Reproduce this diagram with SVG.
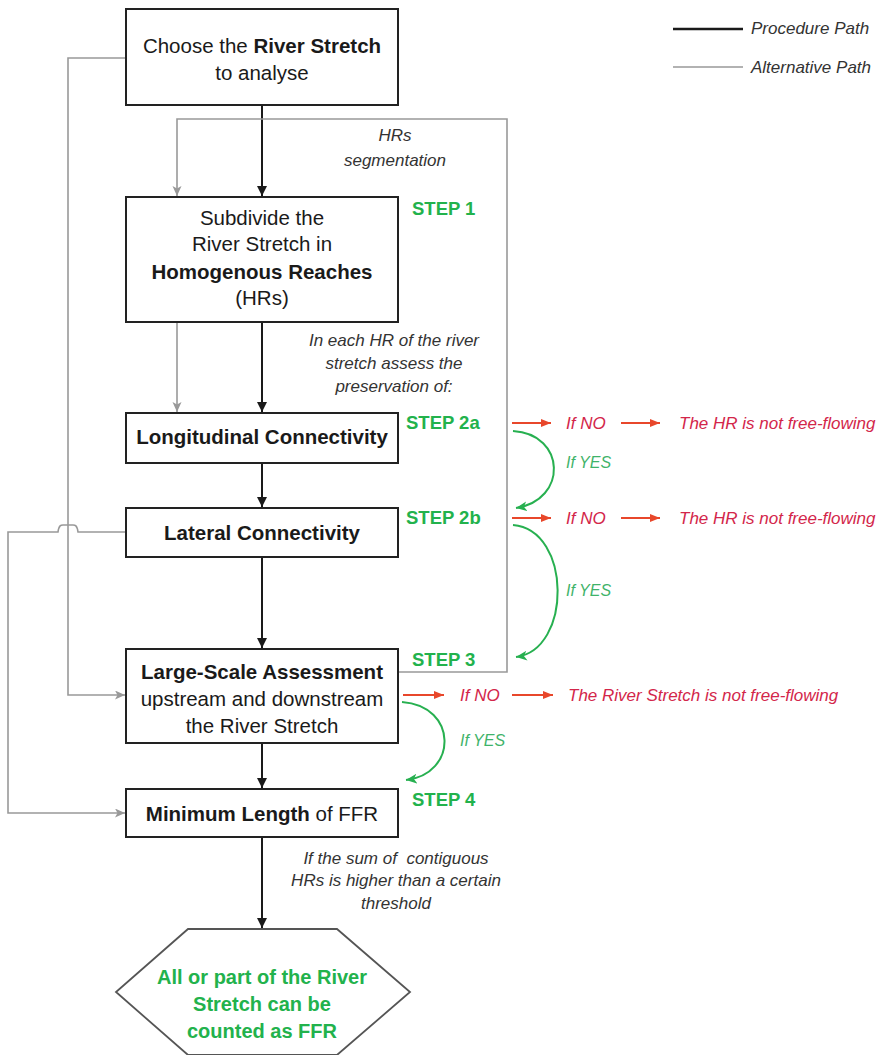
<svg xmlns="http://www.w3.org/2000/svg" width="877" height="1055" viewBox="0 0 877 1055">
<style>
.box{fill:#fff;stroke:#222;stroke-width:2}
.t{font-family:"Liberation Sans",Arial,sans-serif;font-size:20.5px;fill:#1a1a1a;text-anchor:middle}
.b{font-weight:bold}
.it{font-family:"Liberation Sans",Arial,sans-serif;font-style:italic;font-size:17px;fill:#333}
.step{font-family:"Liberation Sans",Arial,sans-serif;font-weight:bold;font-size:18.5px;fill:#22b24c}
.no{font-family:"Liberation Sans",Arial,sans-serif;font-style:italic;font-size:17px;fill:#d3264a}
.yes{font-family:"Liberation Sans",Arial,sans-serif;font-style:italic;font-size:16px;fill:#3fb36a}
.fin{font-family:"Liberation Sans",Arial,sans-serif;font-weight:bold;font-size:20px;fill:#22b24c;text-anchor:middle}
.blk{fill:none;stroke:#1a1a1a;stroke-width:2}
.gry{fill:none;stroke:#999;stroke-width:1.6}
.red{fill:none;stroke:#e8472b;stroke-width:2}
.grn{fill:none;stroke:#27b050;stroke-width:2}
</style>
<defs>
<marker id="ab" markerUnits="userSpaceOnUse" markerWidth="12" markerHeight="12" refX="10" refY="5" orient="auto"><path d="M0,0 L10,5 L0,10 Z" fill="#1a1a1a"/></marker>
<marker id="ag" markerUnits="userSpaceOnUse" markerWidth="12" markerHeight="12" refX="10" refY="4.5" orient="auto"><path d="M0,0 L10,4.5 L0,9 L2.5,4.5 Z" fill="#999"/></marker>
<marker id="ar" markerUnits="userSpaceOnUse" markerWidth="12" markerHeight="12" refX="10" refY="4" orient="auto"><path d="M0,0 L10,4 L0,8 Z" fill="#e8472b"/></marker>
<marker id="an" markerUnits="userSpaceOnUse" markerWidth="14" markerHeight="14" refX="11" refY="5" orient="auto"><path d="M0,0 L11,5 L0,10 L3,5 Z" fill="#27b050"/></marker>
</defs>

<g id="legend">
<line x1="673" y1="29" x2="743" y2="29" stroke="#1a1a1a" stroke-width="2.5"/>
<text class="it" x="751" y="34">Procedure Path</text>
<line x1="673" y1="67" x2="743" y2="67" stroke="#999" stroke-width="1.5"/>
<text class="it" x="751" y="73">Alternative Path</text>
</g>

<g id="connectors">
<path class="blk" d="M262,105 V196" marker-end="url(#ab)"/>
<path class="blk" d="M262,322 V412" marker-end="url(#ab)"/>
<path class="blk" d="M262,463 V507" marker-end="url(#ab)"/>
<path class="blk" d="M262,557 V648" marker-end="url(#ab)"/>
<path class="blk" d="M262,743 V788" marker-end="url(#ab)"/>
<path class="blk" d="M262,837 V928" marker-end="url(#ab)"/>
<path class="gry" d="M126,58 H68 V695 H125" marker-end="url(#ag)"/>
<path class="gry" d="M398,672 H507 V119 H177 V196" marker-end="url(#ag)"/>
<path class="gry" d="M177,322 V412" marker-end="url(#ag)"/>
<path class="gry" d="M126,532 H78 C77,525 75,525 73,525 H63 C61,525 59,525 58,532 H8 V813 H125" marker-end="url(#ag)"/>
<path class="red" d="M512,423 H551" marker-end="url(#ar)"/>
<path class="red" d="M621,423 H660" marker-end="url(#ar)"/>
<path class="red" d="M512,518 H551" marker-end="url(#ar)"/>
<path class="red" d="M621,518 H660" marker-end="url(#ar)"/>
<path class="red" d="M403,695 H444" marker-end="url(#ar)"/>
<path class="red" d="M512,695 H553" marker-end="url(#ar)"/>
<path class="grn" d="M513,431 C566,434 568,500 516,508" marker-end="url(#an)"/>
<path class="grn" d="M513,525 C572,530 572,650 516,657" marker-end="url(#an)"/>
<path class="grn" d="M402,702 C458,706 458,774 406,780" marker-end="url(#an)"/>
</g>

<g id="n1">
<rect class="box" x="126" y="9" width="272" height="96"/>
<text class="t" x="262" y="53">Choose the <tspan class="b">River Stretch</tspan></text>
<text class="t" x="262" y="80">to analyse</text>
</g>
<g id="lbl-seg">
<text class="it" x="395" y="141" text-anchor="middle">HRs</text>
<text class="it" x="395" y="166" text-anchor="middle">segmentation</text>
</g>
<g id="n2">
<rect class="box" x="126" y="197" width="272" height="125"/>
<text class="t" x="262" y="225">Subdivide the</text>
<text class="t" x="262" y="251">River Stretch in</text>
<text class="t b" x="262" y="279">Homogenous Reaches</text>
<text class="t" x="262" y="305">(HRs)</text>
</g>
<text class="step" x="412" y="215">STEP 1</text>
<g id="lbl-each">
<text class="it" x="394" y="346" text-anchor="middle">In each HR of the river</text>
<text class="it" x="394" y="369" text-anchor="middle">stretch assess the</text>
<text class="it" x="394" y="392" text-anchor="middle">preservation of:</text>
</g>
<g id="n3">
<rect class="box" x="126" y="413" width="272" height="50"/>
<text class="t b" x="262" y="444">Longitudinal Connectivity</text>
</g>
<text class="step" x="406" y="429">STEP 2a</text>
<text class="no" x="566" y="429">If NO</text>
<text class="no" x="679" y="429">The HR is not free-flowing</text>
<text class="yes" x="566" y="468">If YES</text>
<g id="n4">
<rect class="box" x="126" y="508" width="272" height="49"/>
<text class="t b" x="262" y="540">Lateral Connectivity</text>
</g>
<text class="step" x="406" y="524">STEP 2b</text>
<text class="no" x="566" y="524">If NO</text>
<text class="no" x="679" y="524">The HR is not free-flowing</text>
<text class="yes" x="566" y="596">If YES</text>
<g id="n5">
<rect class="box" x="126" y="649" width="272" height="94"/>
<text class="t b" x="262" y="679">Large-Scale Assessment</text>
<text class="t" x="262" y="706">upstream and downstream</text>
<text class="t" x="262" y="733">the River Stretch</text>
</g>
<text class="step" x="412" y="666">STEP 3</text>
<text class="no" x="460" y="701">If NO</text>
<text class="no" x="568" y="701">The River Stretch is not free-flowing</text>
<text class="yes" x="460" y="746">If YES</text>
<g id="n6">
<rect class="box" x="126" y="789" width="272" height="48"/>
<text class="t" x="262" y="821"><tspan class="b">Minimum Length</tspan> of FFR</text>
</g>
<text class="step" x="412" y="806">STEP 4</text>
<g id="lbl-sum">
<text class="it" x="396" y="864" text-anchor="middle">If the sum of&#160; contiguous</text>
<text class="it" x="396" y="886" text-anchor="middle">HRs is higher than a certain</text>
<text class="it" x="396" y="909" text-anchor="middle">threshold</text>
</g>
<g id="n7">
<polygon points="188,929 337,929 410,992 337,1055 188,1055 116,992" fill="#fff" stroke="#555" stroke-width="1.8"/>
<text class="fin" x="262" y="984">All or part of the River</text>
<text class="fin" x="262" y="1011">Stretch can be</text>
<text class="fin" x="262" y="1038">counted as FFR</text>
</g>
</svg>
